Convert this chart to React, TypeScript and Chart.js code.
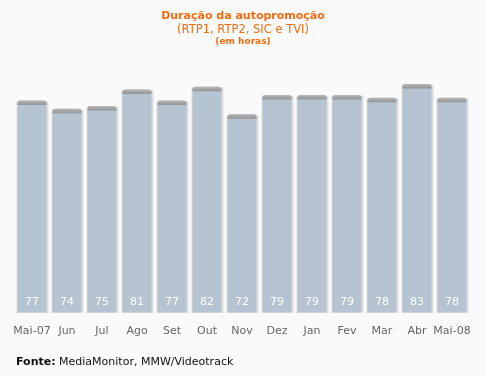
import React, { useEffect, useRef } from "react";
import { Chart, registerables } from "chart.js";
Chart.register(...registerables);

const months = ["Mai-07", "Jun", "Jul", "Ago", "Set", "Out", "Nov", "Dez", "Jan", "Fev", "Mar", "Abr", "Mai-08"];
const hours = [77, 74, 75, 81, 77, 82, 72, 79, 79, 79, 78, 83, 78];
const titleMain = "Duração da autopromoção";
const titleSub = "(RTP1, RTP2, SIC e TVI)";
const titleUnit = "(em horas)";
const sourceLabel = "Fonte:";
const sourceText = " MediaMonitor, MMW/Videotrack";

const FONT = "DejaVu Sans";
const ORANGE = "#f26b0f";

const barDecor = {
  id: "barDecor",
  beforeDatasetsDraw(chart: any) {
    const ctx = chart.ctx;
    const meta = chart.getDatasetMeta(0);
    ctx.save();
    ctx.fillStyle = "#dcdcdc";
    meta.data.forEach((bar: any) => {
      const { x, y, base, width } = bar.getProps(["x", "y", "base", "width"], true);
      ctx.fillRect(x - width / 2 - 1, y + 1, width + 3, base - y - 1);
    });
    ctx.restore();
  },
  afterDatasetsDraw(chart: any) {
    const ctx = chart.ctx;
    const meta = chart.getDatasetMeta(0);
    ctx.save();
    meta.data.forEach((bar: any, i: number) => {
      const { x, y, width } = bar.getProps(["x", "y", "width"], true);
      const g = ctx.createLinearGradient(0, y, 0, y + 5);
      g.addColorStop(0, "#b8b8b8");
      g.addColorStop(1, "#8f8f8f");
      ctx.fillStyle = g;
      ctx.beginPath();
      ctx.roundRect(x - width / 2, y, width, 4.5, [3, 3, 0, 0]);
      ctx.fill();
      ctx.fillStyle = "#ffffff";
      ctx.font = `11px "${FONT}"`;
      ctx.textAlign = "center";
      ctx.textBaseline = "middle";
      const base = bar.base;
      ctx.fillText(String(chart.data.datasets[0].data[i]), x, base - 11);
    });
    ctx.restore();
  },
};

export default function App() {
  const ref = useRef<HTMLCanvasElement>(null);
  useEffect(() => {
    document.body.style.margin = "0";
    const chart = new Chart(ref.current!, {
      type: "bar",
      data: {
        labels: months,
        datasets: [
          {
            data: hours,
            backgroundColor: "#b6c4d2",
            borderWidth: 0,
            borderRadius: { topLeft: 3, topRight: 3, bottomLeft: 0, bottomRight: 0 },
            borderSkipped: "start",
            categoryPercentage: 1,
            barPercentage: 0.83,
          },
        ],
      },
      options: {
        responsive: false,
        animation: false,
        devicePixelRatio: 1,
        layout: { padding: { top: 37, left: 14.5, right: 16.5, bottom: 26 } },
        plugins: { legend: { display: false }, tooltip: { enabled: false }, title: { display: false } },
        scales: {
          x: {
            grid: { display: false, drawTicks: false },
            border: { display: false },
            ticks: { color: "#666666", font: { family: FONT, size: 11 }, padding: 12, maxRotation: 0, autoSkip: false },
          },
          y: { display: false, min: 0, max: 100 },
        },
      },
      plugins: [barDecor],
    });
    return () => chart.destroy();
  }, []);

  return (
    <div style={{ position: "absolute", left: 0, top: 0, width: 486, height: 376, background: "#fafafa", overflow: "hidden" }}>
      <canvas ref={ref} width={486} height={376} style={{ position: "absolute", left: 0, top: 0, width: 486, height: 376 }} />
      <div style={{ position: "absolute", left: 0, top: 9, width: 486, textAlign: "center", fontFamily: FONT, color: ORANGE }}>
        <div style={{ fontSize: 11, fontWeight: "bold", lineHeight: "14px" }}>{titleMain}</div>
        <div style={{ fontSize: 11.5, lineHeight: "13px" }}>{titleSub}</div>
        <div style={{ fontSize: 9, fontWeight: "bold", lineHeight: "11px" }}>{titleUnit}</div>
      </div>
      <div style={{ position: "absolute", left: 16, top: 355, fontFamily: FONT, fontSize: 11, color: "#111", whiteSpace: "pre" }}>
        <b>{sourceLabel}</b>
        {sourceText}
      </div>
    </div>
  );
}
